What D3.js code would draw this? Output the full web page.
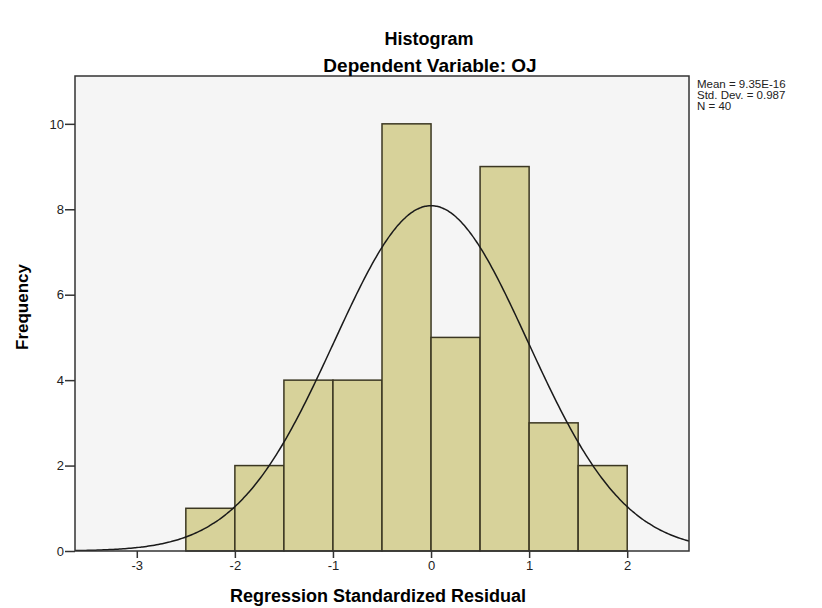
<!DOCTYPE html>
<html lang="en">
<head>
    <meta charset="UTF-8">
    <title>Histogram | D3</title>
    <style>
        body { margin: 0; background: #fff; }
        text { font-family: Arial, "Liberation Sans", sans-serif; }
    </style>
</head>
<body>
    <div class="graph-container"></div>

    <script type="text/javascript" src="https://d3js.org/d3.v7.min.js"></script>
    <script type="text/javascript">
        // Bin edges and counts
        var binStarts = [-2.5, -2.0, -1.5, -1.0, -0.5, 0.0, 0.5, 1.0, 1.5];
        var binCounts = [1, 2, 4, 4, 10, 5, 9, 3, 2];
        var binWidth = 0.5;

        var xTicks = [-3, -2, -1, 0, 1, 2];
        var yTicks = [0, 2, 4, 6, 8, 10];

        // Summary stats printed next to the plot
        var statMean = 9.35e-16;
        var statSd = 0.987;
        var statN = 40;
        var statLines = ["Mean = 9.35E-16", "Std. Dev. = 0.987", "N = 40"];

        var canvasWidth = 822;
        var canvasHeight = 608;
        var margin = { top: 76, right: 133, bottom: 57, left: 75 };
        var graphWidth = canvasWidth - margin.left - margin.right;
        var graphHeight = canvasHeight - margin.top - margin.bottom;

        var x = d3.scaleLinear().domain([-3.63, 2.63]).range([0, graphWidth]);
        var y = d3.scaleLinear().domain([0, 11.12]).range([graphHeight, 0]);

        var svg = d3.select(".graph-container")
            .append("svg")
            .attr("width", canvasWidth)
            .attr("height", canvasHeight);

        var g = svg.append("g")
            .attr("transform", "translate(" + margin.left + "," + margin.top + ")");

        g.append("defs").append("clipPath")
            .attr("id", "plot-clip")
            .append("rect")
            .attr("width", graphWidth)
            .attr("height", graphHeight);

        // plot background
        g.append("rect")
            .attr("width", graphWidth)
            .attr("height", graphHeight)
            .attr("fill", "#f5f5f5");

        // bars
        g.append("g")
            .selectAll("rect")
            .data(binStarts)
            .enter()
                .append("rect")
                .attr("x", function(d) { return x(d); })
                .attr("width", function(d) { return x(d + binWidth) - x(d); })
                .attr("y", function(d, i) { return y(binCounts[i]); })
                .attr("height", function(d, i) { return y(0) - y(binCounts[i]); })
                .attr("fill", "#d7d29a")
                .attr("stroke", "#3b3722")
                .attr("stroke-width", 1.5);

        // fitted normal curve
        var curveXs = d3.range(-3.7, 2.71, 0.02);
        var scaleFactor = statN * binWidth / (statSd * Math.sqrt(2 * Math.PI));
        var line = d3.line()
            .x(function(d) { return x(d); })
            .y(function(d) {
                var z = (d - statMean) / statSd;
                return y(scaleFactor * Math.exp(-0.5 * z * z));
            })
            .curve(d3.curveBasis);

        g.append("path")
            .datum(curveXs)
            .attr("d", line)
            .attr("clip-path", "url(#plot-clip)")
            .attr("fill", "none")
            .attr("stroke", "#1a1a1a")
            .attr("stroke-width", 1.5);

        // frame
        g.append("rect")
            .attr("width", graphWidth)
            .attr("height", graphHeight)
            .attr("fill", "none")
            .attr("stroke", "#333")
            .attr("stroke-width", 1.5);

        // axes (plain hyphen for negatives, like the original)
        var fmt = function(d) { return String(d); };
        var xAxis = d3.axisBottom(x).tickValues(xTicks).tickSize(7).tickPadding(3).tickFormat(fmt);
        var yAxis = d3.axisLeft(y).tickValues(yTicks).tickSize(10).tickPadding(1).tickFormat(fmt);

        var gx = g.append("g")
            .attr("transform", "translate(0," + graphHeight + ")")
            .call(xAxis);
        var gy = g.append("g").call(yAxis);

        [gx, gy].forEach(function(a) {
            a.select(".domain").remove();
            a.selectAll(".tick line").attr("stroke", "#333").attr("stroke-width", 1.5);
            a.selectAll(".tick text")
                .attr("fill", "#222")
                .style("font-size", "13px")
                .style("font-family", "Arial, 'Liberation Sans', sans-serif");
        });

        // titles
        svg.append("text")
            .attr("x", 429)
            .attr("y", 45)
            .attr("text-anchor", "middle")
            .style("font-size", "18px")
            .style("font-weight", "bold")
            .text("Histogram");

        svg.append("text")
            .attr("x", 430)
            .attr("y", 72)
            .attr("text-anchor", "middle")
            .style("font-size", "19px")
            .style("font-weight", "bold")
            .text("Dependent Variable: OJ");

        svg.append("text")
            .attr("x", 378)
            .attr("y", 602)
            .attr("text-anchor", "middle")
            .style("font-size", "18px")
            .style("font-weight", "bold")
            .text("Regression Standardized Residual");

        svg.append("text")
            .attr("transform", "translate(28,307) rotate(-90)")
            .attr("text-anchor", "middle")
            .style("font-size", "17px")
            .style("font-weight", "bold")
            .text("Frequency");

        // stats box text
        svg.append("g")
            .selectAll("text")
            .data(statLines)
            .enter()
                .append("text")
                .attr("x", 697)
                .attr("y", function(d, i) { return 88 + i * 11; })
                .style("font-size", "11.5px")
                .attr("fill", "#222")
                .text(function(d) { return d; });
    </script>
</body>
</html>
